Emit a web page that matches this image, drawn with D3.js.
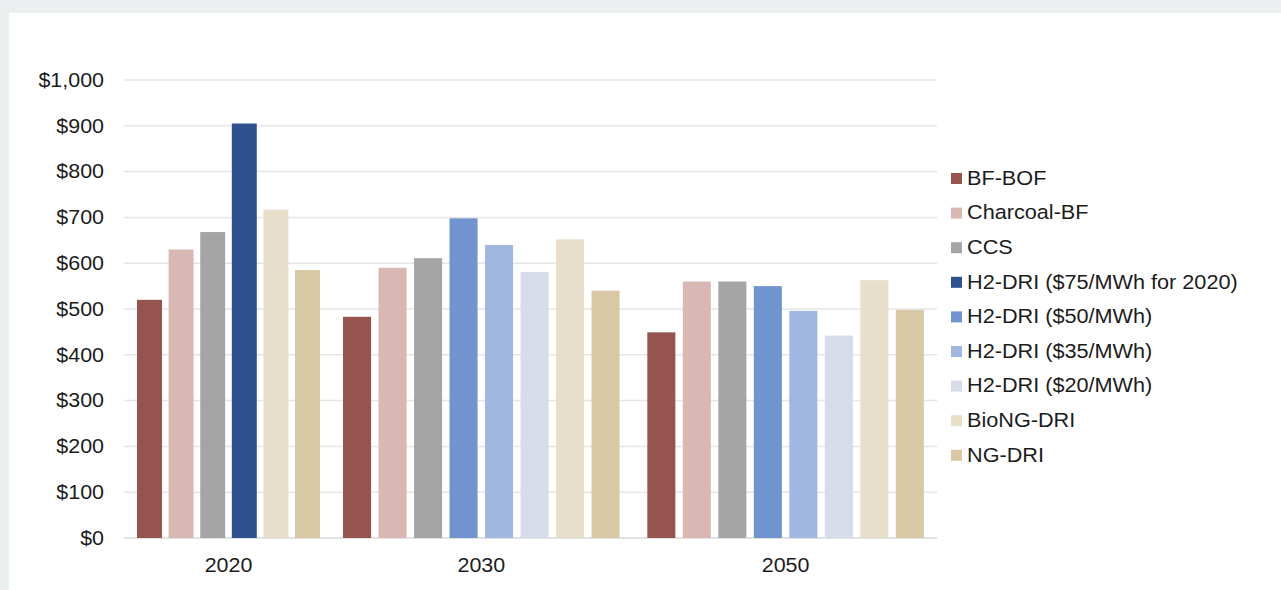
<!DOCTYPE html>
<html>
<head>
<meta charset="utf-8">
<script src="https://cdn.jsdelivr.net/npm/d3@7"></script>
<style>
  html, body { margin: 0; padding: 0; background: #ebeff0; }
  svg { display: block; }
  text { font-family: "Liberation Sans", Arial, Helvetica, sans-serif; fill: #1c1c1c; }
</style>
</head>
<body>
<svg id="chart" width="1281" height="590"></svg>
<script>
// Levelized steel production cost by route, $ per tonne
const years = ["2020", "2030", "2050"];
const seriesNames = [
  "BF-BOF",
  "Charcoal-BF",
  "CCS",
  "H2-DRI ($75/MWh for 2020)",
  "H2-DRI ($50/MWh)",
  "H2-DRI ($35/MWh)",
  "H2-DRI ($20/MWh)",
  "BioNG-DRI",
  "NG-DRI"
];
const seriesColors = [
  "#96544f", "#d9b8b4", "#a5a5a5", "#2f528f",
  "#7094cd", "#a0b7e0", "#d6dde8", "#e8dfca", "#d8c8a5"
];
// one array per year, aligned with seriesNames (null = not modelled that year)
const values2020 = [520, 630, 668, 905, null, null, null, 717, 585];
const values2030 = [483, 590, 611, null, 698, 640, 581, 652, 540];
const values2050 = [449, 560, 560, null, 550, 496, 442, 563, 498];
const yTicks = [0, 100, 200, 300, 400, 500, 600, 700, 800, 900, 1000];

const valuesByYear = [values2020, values2030, values2050];

// type is set slightly wide
const WIDE = "scale(1.1,1)";

const svg = d3.select("#chart");

// white card
svg.append("rect").attr("x", 9).attr("y", 13).attr("width", 1272).attr("height", 577).attr("fill", "#ffffff");

const plot = { left: 124, right: 937, top: 80, bottom: 538 };

const y = d3.scaleLinear().domain([0, 1000]).range([plot.bottom, plot.top]);

// each year gets its own span; bars inside are packed by the series present
const groupSpans = [[133.7, 323.3], [339.3, 623.3], [643.6, 927.6]];

const fmt = v => "$" + d3.format(",")(v);

// gridlines
svg.append("g").selectAll("line").data(yTicks).join("line")
  .attr("x1", plot.left).attr("x2", plot.right)
  .attr("y1", d => y(d)).attr("y2", d => y(d))
  .attr("stroke", d => d === 0 ? "#d6d9dc" : "#e6e6e6")
  .attr("stroke-width", 1.5);

// y tick labels
const yAxis = svg.append("g").attr("transform", `translate(${plot.left - 20},0)`)
  .call(d3.axisLeft(y).tickValues(yTicks).tickFormat(fmt).tickSize(0).tickPadding(0));
yAxis.select(".domain").remove();
yAxis.selectAll("text")
  .attr("font-size", 19.5)
  .attr("font-family", "Liberation Sans, Arial, sans-serif")
  .attr("fill", "#1c1c1c")
  .attr("transform", WIDE);

// bars
years.forEach((yr, gi) => {
  const vals = valuesByYear[gi];
  const present = seriesNames.map((n, i) => i).filter(i => vals[i] !== null);
  const x1 = d3.scaleBand().domain(present).range(groupSpans[gi]).paddingInner(0.21).paddingOuter(0.105);
  const g = svg.append("g");
  g.selectAll("rect").data(present).join("rect")
    .attr("x", i => x1(i))
    .attr("width", x1.bandwidth())
    .attr("y", i => y(vals[i]))
    .attr("height", i => y(0) - y(vals[i]))
    .attr("fill", i => seriesColors[i]);
  const cx = (groupSpans[gi][0] + groupSpans[gi][1]) / 2;
  svg.append("text")
    .attr("transform", `translate(${cx},572) ${WIDE}`)
    .attr("text-anchor", "middle")
    .attr("font-size", 19.5)
    .text(yr);
});

// legend
const legend = svg.append("g").attr("transform", "translate(951,178)");
const leg = legend.selectAll("g").data(seriesNames).join("g")
  .attr("transform", (d, i) => `translate(0,${i * 34.6})`);
leg.append("rect").attr("x", 0).attr("y", -5).attr("width", 11).attr("height", 11)
  .attr("fill", (d, i) => seriesColors[i]);
leg.append("text").attr("transform", `translate(16,0) ${WIDE}`).attr("dy", "0.35em")
  .attr("font-size", 19.7).text(d => d);
</script>
</body>
</html>
